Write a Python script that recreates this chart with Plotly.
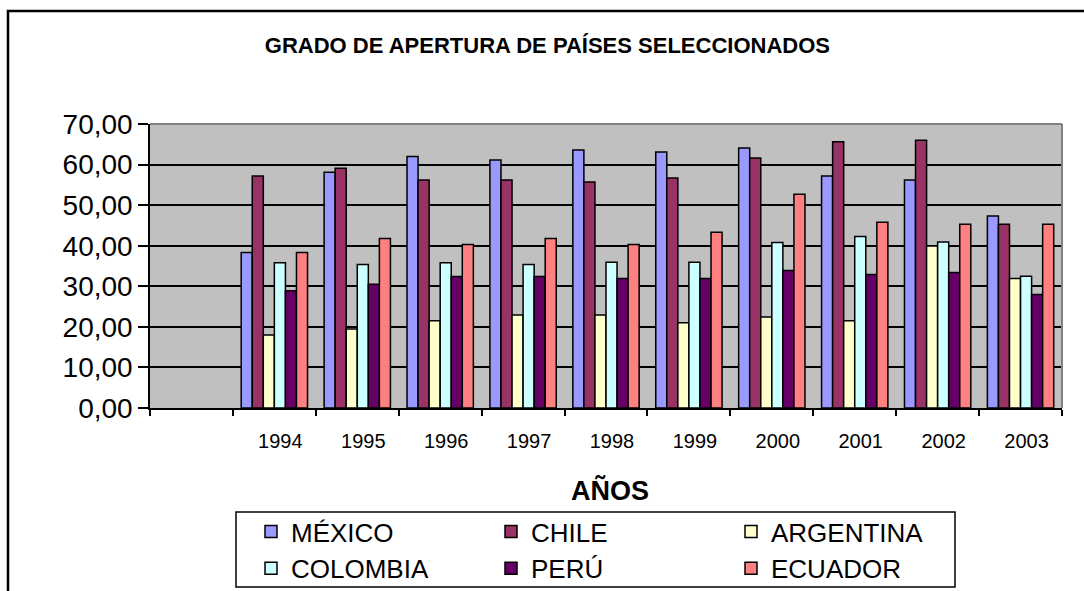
import plotly.graph_objects as go

categories = [" ", "1994", "1995", "1996", "1997", "1998", "1999", "2000", "2001", "2002", "2003"]
years = ["1994", "1995", "1996", "1997", "1998", "1999", "2000", "2001", "2002", "2003"]

mexico = [38.3, 58.1, 62.0, 61.1, 63.6, 63.1, 64.1, 57.2, 56.2, 47.3]
chile = [57.2, 59.1, 56.2, 56.2, 55.7, 56.7, 61.6, 65.6, 66.0, 45.3]
argentina = [18.0, 19.5, 21.5, 22.9, 22.9, 21.0, 22.4, 21.5, 39.9, 31.9]
colombia = [35.8, 35.4, 35.8, 35.4, 35.9, 35.9, 40.8, 42.3, 40.9, 32.5]
peru = [28.9, 30.5, 32.4, 32.4, 31.9, 31.9, 33.9, 32.9, 33.4, 28.0]
ecuador = [38.3, 41.8, 40.3, 41.8, 40.3, 43.3, 52.7, 45.8, 45.3, 45.3]

series = [
    ("MÉXICO", mexico, "#9999FF"),
    ("CHILE", chile, "#993366"),
    ("ARGENTINA", argentina, "#FFFFCC"),
    ("COLOMBIA", colombia, "#CCFFFF"),
    ("PERÚ", peru, "#660066"),
    ("ECUADOR", ecuador, "#FF8080"),
]

fig = go.Figure()
fig.add_trace(go.Scatter(x=[" "], y=[0], mode="markers", marker=dict(opacity=0),
                         showlegend=False, hoverinfo="skip"))
for name, vals, color in series:
    fig.add_trace(go.Bar(x=years, y=vals, name=name,
                         marker=dict(color=color, line=dict(color="black", width=1.5))))

FONT = "Arial, Liberation Sans, sans-serif"
L, R, T, B = 150, 22, 124, 183
PW, PH = 1084 - L - R, 591 - T - B


def px(x):
    return (x - L) / PW


def py(y):
    return (591 - B - y) / PH


fig.update_layout(
    width=1084, height=591,
    margin=dict(l=L, r=R, t=T, b=B, autoexpand=False),
    paper_bgcolor="white",
    plot_bgcolor="#C0C0C0",
    barmode="group",
    bargap=0.2,
    bargroupgap=0,
    separators=",.",
    font=dict(family=FONT, color="black"),
    title=dict(text="<b>GRADO DE APERTURA DE PAÍSES SELECCIONADOS</b>",
               x=0.505, xanchor="center", y=1 - 45 / 591, yanchor="middle",
               yref="container", font=dict(size=22, family=FONT)),
    showlegend=True,
    legend=dict(orientation="h", x=px(251), y=py(508), xanchor="left", yanchor="top",
                borderwidth=0, bgcolor="rgba(0,0,0,0)",
                font=dict(size=26, family=FONT), entrywidth=195, traceorder="normal"),
    xaxis=dict(type="category", categoryorder="array", categoryarray=categories,
               range=[-0.5, 10.5], tickson="boundaries", ticks="outside", ticklen=6,
               tickcolor="black", tickwidth=1.5, showline=True, linecolor="black",
               linewidth=1.5, showgrid=False, tickfont=dict(size=20, family=FONT),
               ticklabelstandoff=14, ticklabelshift=6, zeroline=False),
    yaxis=dict(range=[0, 70], dtick=10, tickformat=".2f", ticks="outside", ticklen=10,
               tickcolor="black", tickwidth=1.5, showline=True, linecolor="black",
               linewidth=1.5, showgrid=True, gridcolor="black", gridwidth=1.5,
               zeroline=False, tickfont=dict(size=28, family=FONT)),
    annotations=[dict(text="<b>AÑOS</b>", x=px(610), y=py(490), xref="paper", yref="paper",
                      showarrow=False, xanchor="center", yanchor="middle",
                      font=dict(size=27, family=FONT))],
    shapes=[
        dict(type="line", xref="paper", yref="paper", x0=0, x1=1, y0=1, y1=1,
             line=dict(color="#808080", width=2)),
        dict(type="line", xref="paper", yref="paper", x0=1, x1=1, y0=0, y1=1,
             line=dict(color="#808080", width=2)),
        dict(type="rect", xref="paper", yref="paper",
             x0=px(8), x1=px(1120), y0=py(620), y1=py(11),
             line=dict(color="black", width=2.5), fillcolor="rgba(0,0,0,0)", layer="below"),
        dict(type="rect", xref="paper", yref="paper",
             x0=px(236), x1=px(955), y0=py(587), y1=py(512),
             line=dict(color="black", width=1.5), fillcolor="rgba(0,0,0,0)", layer="below"),
    ],
)

fig.write_html("out.html", config={"displayModeBar": False},
               post_script="document.body.style.margin='0px';document.body.style.overflow='hidden';")
